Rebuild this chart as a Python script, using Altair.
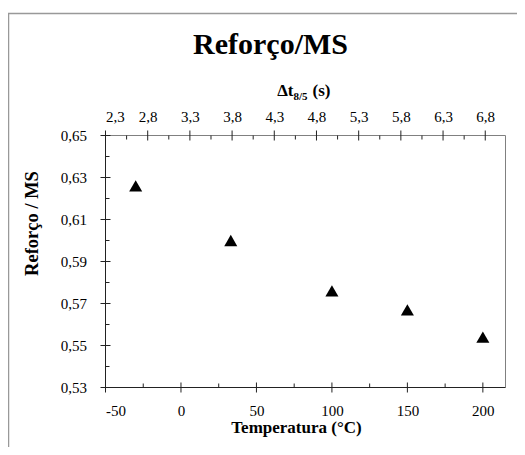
import altair as alt
import pandas as pd

# ---- data ----
temperatura = [-30, 33, 100, 150, 200]
reforco_ms = [0.626, 0.600, 0.576, 0.567, 0.554]

x_major = [-50, 0, 50, 100, 150, 200]
x_minor = [-25, 25, 75, 125, 175]
y_major = [0.53, 0.55, 0.57, 0.59, 0.61, 0.63, 0.65]
y_minor = [0.54, 0.56, 0.58, 0.60, 0.62, 0.64]
dt_major = [2.3, 2.8, 3.3, 3.8, 4.3, 4.8, 5.3, 5.8, 6.3, 6.8]
dt_minor = [2.55, 3.05, 3.55, 4.05, 4.55, 5.05, 5.55, 6.05, 6.55]

x_domain = [-50, 215]
y_domain = [0.53, 0.65]
dt_domain = [2.3, 7.04]

titulo = "Reforço/MS"
titulo_x = "Temperatura (°C)"
titulo_y = "Reforço / MS"

FONT = "Liberation Serif"
DARK = "#222222"
GRAY = "#808080"
LBL = 15
TTL = 17
W, H = 400, 252

df = pd.DataFrame({"temp": temperatura, "ref": reforco_ms})
one = pd.DataFrame({"k": [0]})

xs = alt.Scale(domain=x_domain, nice=False, zero=False)
ys = alt.Scale(domain=y_domain, nice=False, zero=False)
dts = alt.Scale(domain=dt_domain, nice=False, zero=False)

lab = dict(grid=False, title=None, labelFont=FONT, labelFontSize=LBL,
           labelColor="black", ticks=False, tickSize=0, domain=False, zindex=1)

# points with label-only axes (bottom / left)
points = alt.Chart(df).mark_point(
    shape="triangle-up", filled=True, color="black", size=170, opacity=1
).encode(
    x=alt.X("temp:Q", scale=xs, axis=alt.Axis(
        orient="bottom", values=x_major, labelPadding=16,
        labelExpr="toString(datum.value)", **lab)),
    y=alt.Y("ref:Q", scale=ys, axis=alt.Axis(
        orient="left", values=y_major, labelPadding=19,
        labelExpr="replace(format(datum.value, '.2f'), '.', ',')", **lab)),
)

# top axis labels (Δt8/5)
top_lab = alt.Chart(pd.DataFrame({"dt": dt_major})).mark_point(opacity=0).encode(
    x=alt.X("dt:Q", scale=dts, axis=alt.Axis(
        orient="top", values=dt_major, labelPadding=11,
        labelExpr="replace(format(datum.value, '.1f'), '.', ',')", **lab)),
)

# tick marks drawn through the scales (tick marks centred on a baseline)
def vticks(values, field, scale, yc, size):
    return alt.Chart(pd.DataFrame({field: values})).mark_tick(
        orient="vertical", color=DARK, size=size, thickness=1, opacity=1
    ).encode(
        x=alt.X(f"{field}:Q", scale=scale, axis=None),
        y=alt.value(yc),
    )

def hticks(values, xc, size):
    return alt.Chart(pd.DataFrame({"ref": values})).mark_tick(
        orient="horizontal", color=DARK, size=size, thickness=1, opacity=1
    ).encode(
        y=alt.Y("ref:Q", scale=ys, axis=None),
        x=alt.value(xc),
    )

bot_major = vticks(x_major, "temp", xs, H, 10)
bot_minor = vticks(x_minor, "temp", xs, H - 2, 4)
top_major = vticks(dt_major, "dt", dts, 0, 10)
top_minor = vticks(dt_minor, "dt", dts, 2, 4)
left_major = hticks(y_major, 0, 10)
left_minor = hticks(y_minor, 2, 4)

# plot border
def edge(color, **enc):
    return alt.Chart(one).mark_rule(color=color, strokeWidth=1).encode(**enc)

e_left = edge(DARK, x=alt.value(0), y=alt.value(0), y2=alt.value(H))
e_bottom = edge(DARK, y=alt.value(H), x=alt.value(0), x2=alt.value(W))
e_top = edge(GRAY, y=alt.value(0), x=alt.value(0), x2=alt.value(W))
e_right = edge(GRAY, x=alt.value(W), y=alt.value(0), y2=alt.value(H))

# outer chart frame
frame = alt.Chart(one).mark_rect(fillOpacity=0, stroke="#999999", strokeWidth=1.5).encode(
    x=alt.value(-97), x2=alt.value(440), y=alt.value(-122), y2=alt.value(340)
)

# titles
t_main = alt.Chart(one).mark_text(
    text=titulo, font=FONT, fontSize=30, fontWeight="bold", color="black",
    align="center", baseline="alphabetic"
).encode(x=alt.value(165), y=alt.value(-82))

t_x = alt.Chart(one).mark_text(
    text=titulo_x, font=FONT, fontSize=TTL, fontWeight="bold", color="black",
    align="center", baseline="alphabetic"
).encode(x=alt.value(191), y=alt.value(297))

t_y = alt.Chart(one).mark_text(
    text=titulo_y, font=FONT, fontSize=18.5, fontWeight="bold", color="black",
    align="center", baseline="middle", angle=270
).encode(x=alt.value(-74), y=alt.value(88))

t_top1 = alt.Chart(one).mark_text(
    text="Δt", font=FONT, fontSize=TTL, fontWeight="bold", color="black",
    align="right", baseline="alphabetic"
).encode(x=alt.value(188), y=alt.value(-40))
t_top2 = alt.Chart(one).mark_text(
    text="8/5", font=FONT, fontSize=11, fontWeight="bold", color="black",
    align="left", baseline="alphabetic"
).encode(x=alt.value(188), y=alt.value(-36))
t_top3 = alt.Chart(one).mark_text(
    text="(s)", font=FONT, fontSize=TTL, fontWeight="bold", color="black",
    align="left", baseline="alphabetic"
).encode(x=alt.value(207), y=alt.value(-40))

chart = alt.layer(
    frame, e_top, e_right, e_left, e_bottom,
    bot_major, bot_minor, top_major, top_minor, left_major, left_minor,
    points, top_lab,
    t_main, t_x, t_y, t_top1, t_top2, t_top3
).resolve_scale(
    x="independent", y="shared"
).resolve_axis(
    x="independent", y="independent"
).properties(
    width=W, height=H,
    autosize=alt.AutoSizeParams(type="none"),
    padding={"left": 97.5, "top": 127.5, "right": 11.5, "bottom": 59.5},
    background="white",
).configure_view(
    stroke=None
)

chart.save("out.html", embed_options={"renderer": "svg", "actions": False})
